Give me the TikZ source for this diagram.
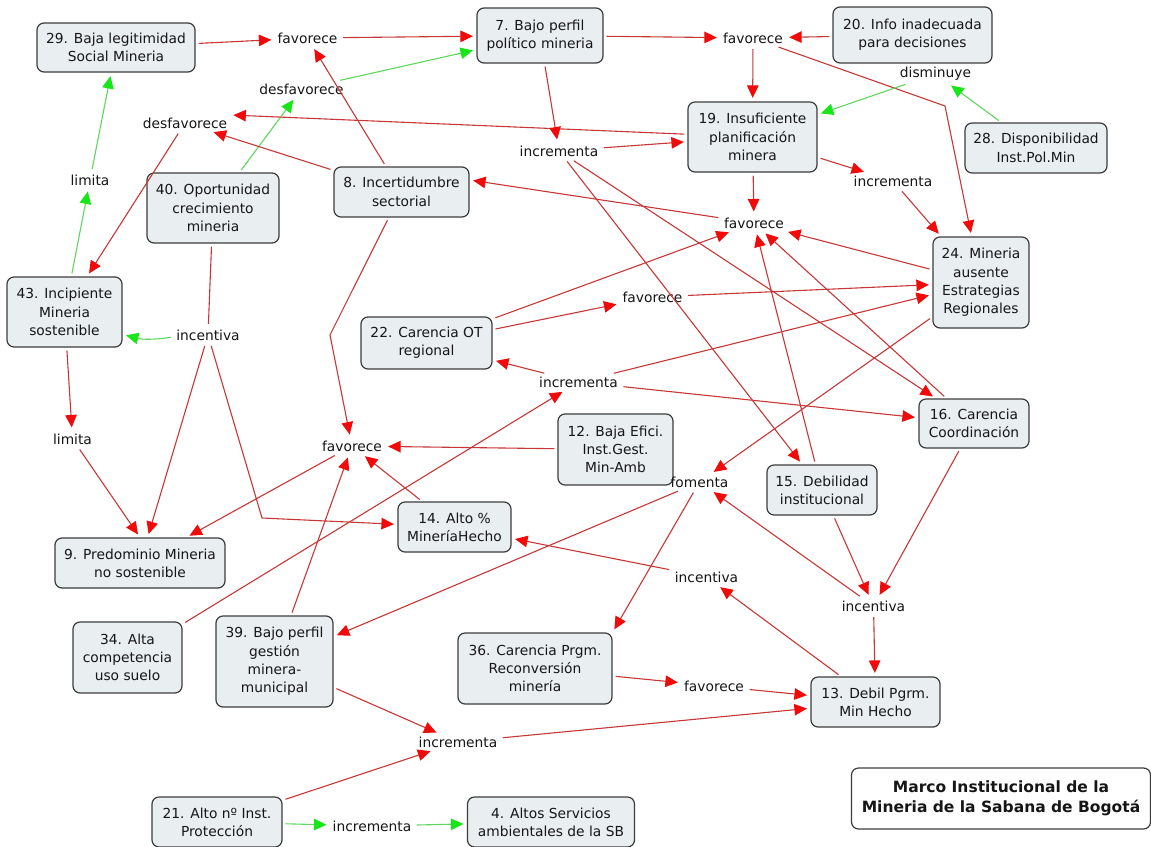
\documentclass[tikz,border=0pt]{standalone}
\usepackage{fontspec}
\setmainfont{DejaVu Sans}
\usetikzlibrary{arrows.meta}
\definecolor{boxfill}{RGB}{233,238,241}
\definecolor{boxline}{RGB}{60,60,60}
\definecolor{linkred}{RGB}{200,55,55}
\definecolor{tipred}{RGB}{240,10,10}
\definecolor{linkgreen}{RGB}{95,215,95}
\definecolor{tipgreen}{RGB}{25,230,25}
\definecolor{txt}{RGB}{22,22,22}
\begin{document}
\begin{tikzpicture}[x=1pt,y=-1pt,
  concept/.style={draw=boxline, line width=1.2pt, fill=boxfill, rounded corners=7pt,
    align=center, inner sep=2pt, text=txt, font=\fontsize{13.8}{18.3}\selectfont},
  phrase/.style={align=center, inner sep=2.5pt, text=txt, font=\fontsize{13.8}{18.3}\selectfont},
  redarrow/.style={draw=linkred, line width=1.1pt, shorten >=3.5pt, shorten <=3pt,
    -{Triangle[length=12.5pt,width=11.5pt,color=tipred]}},
  greenarrow/.style={draw=linkgreen, line width=1.1pt, shorten >=3.5pt, shorten <=3pt,
    -{Triangle[length=12.5pt,width=11.5pt,color=tipgreen]}},
  redline/.style={draw=linkred, line width=1.1pt, shorten <=3pt, shorten >=3pt},
]
\fill[white] (0,0) rectangle (1151,846);
\useasboundingbox (0,0) rectangle (1151,846);

% concepts
\node[concept, minimum width=158pt, minimum height=49pt] (n29) at (116,47.5) {29. Baja legitimidad\\Social Mineria};
\node[concept, minimum width=126pt, minimum height=55pt] (n7) at (540,35.5) {7. Bajo perfil\\político mineria};
\node[concept, minimum width=159pt, minimum height=56pt] (n20) at (912.5,35) {20. Info inadecuada\\para decisiones};
\node[concept, minimum width=142pt, minimum height=50pt] (n28) at (1036,148) {28. Disponibilidad\\Inst.Pol.Min};
\node[concept, minimum width=129pt, minimum height=70pt] (n19) at (752.5,137) {19. Insuficiente\\planificación\\minera};
\node[concept, minimum width=135pt, minimum height=50pt] (n8) at (401.5,192) {8. Incertidumbre\\sectorial};
\node[concept, minimum width=132pt, minimum height=70pt] (n40) at (213,208) {40. Oportunidad\\crecimiento\\mineria};
\node[concept, minimum width=115pt, minimum height=70pt] (n43) at (64.5,312) {43. Incipiente\\Mineria\\sostenible};
\node[concept, minimum width=96pt, minimum height=91pt] (n24) at (981,282.5) {24. Mineria\\ausente\\Estrategias\\Regionales};
\node[concept, minimum width=131pt, minimum height=52pt] (n22) at (426.5,343) {22. Carencia OT\\regional};
\node[concept, minimum width=110pt, minimum height=49pt] (n16) at (974,423.5) {16. Carencia\\Coordinación};
\node[concept, minimum width=115pt, minimum height=71pt] (n12) at (615.5,449.5) {12. Baja Efici.\\Inst.Gest.\\Min-Amb};
\node[concept, minimum width=110pt, minimum height=50pt] (n15) at (822,490) {15. Debilidad\\institucional};
\node[concept, minimum width=113pt, minimum height=50pt] (n14) at (454.5,527) {14. Alto \%\\MineríaHecho};
\node[concept, minimum width=170pt, minimum height=50pt] (n9) at (140,563) {9. Predominio Mineria\\no sostenible};
\node[concept, minimum width=109pt, minimum height=71pt] (n34) at (127.5,657.5) {34. Alta\\competencia\\uso suelo};
\node[concept, minimum width=117pt, minimum height=91pt] (n39) at (274.5,661.5) {39. Bajo perfil\\gestión\\minera-\\municipal};
\node[concept, minimum width=154pt, minimum height=71pt] (n36) at (535,668.5) {36. Carencia Prgm.\\Reconversión\\minería};
\node[concept, minimum width=129pt, minimum height=50pt] (n13) at (875.5,702) {13. Debil Pgrm.\\Min Hecho};
\node[concept, minimum width=130pt, minimum height=50pt] (n21) at (217,822) {21. Alto nº Inst.\\Protección};
\node[concept, minimum width=167pt, minimum height=50pt] (n4) at (551,822) {4. Altos Servicios\\ambientales de la SB};
\node[concept, fill=white, minimum width=299pt, minimum height=61pt,
  font=\fontsize{15.5}{20}\selectfont\bfseries] (title) at (1001,798.5)
  {Marco Institucional de la\\Mineria de la Sabana de Bogotá};

% linking phrases
\node[phrase] (fav1) at (307.5,38) {favorece};
\node[phrase] (fav2) at (753,38) {favorece};
\node[phrase] (dism) at (935.5,74) {disminuye};
\node[phrase] (desf1) at (301.5,89) {desfavorece};
\node[phrase] (desf2) at (185,123) {desfavorece};
\node[phrase] (incr1) at (559,151) {incrementa};
\node[phrase] (incr2) at (893,181) {incrementa};
\node[phrase] (fav3) at (754,223) {favorece};
\node[phrase] (lim1) at (90,180) {limita};
\node[phrase] (inc1) at (208,335) {incentiva};
\node[phrase] (fav4) at (652.5,297) {favorece};
\node[phrase] (incr3) at (578.5,382) {incrementa};
\node[phrase] (fav5) at (352,446) {favorece};
\node[phrase] (fom) at (699.5,482) {fomenta};
\node[phrase] (lim2) at (72.5,439) {limita};
\node[phrase] (inc2) at (706.5,577) {incentiva};
\node[phrase] (inc3) at (873.5,606) {incentiva};
\node[phrase] (fav6) at (714,686) {favorece};
\node[phrase] (incr4) at (458,742) {incrementa};
\node[phrase] (incr5) at (372,826) {incrementa};

% bend points of the elbowed connectors
\coordinate (k1) at (945,106);
\coordinate (k2) at (330,335);
\coordinate (k3) at (262,518);

% connectors
\draw[redarrow] (n29) -- (fav1);
\draw[redarrow] (fav1) -- (n7);
\draw[greenarrow] (desf1) -- (n7);
\draw[greenarrow] (n40) -- (desf1);
\draw[redarrow] (n8) -- (fav1);
\draw[redarrow] (n8) -- (desf2);
\draw[redarrow] (n19) -- (desf2.north east);
\draw[redarrow] (desf2) -- (n43);
\draw[greenarrow] (n43) -- (lim1);
\draw[greenarrow] (lim1) -- (n29);
\draw[redarrow] (n7) -- (fav2);
\draw[redarrow] (n20) -- (fav2);
\draw[redarrow] (fav2) -- (n19);
\draw[redarrow] (fav2) -- (k1) -- (n24);
\draw[greenarrow] (n28) -- (dism);
\draw[greenarrow] (dism) -- (n19);
\draw[redarrow] (n7) -- (incr1);
\draw[redarrow] (incr1) -- (n19);
\draw[redarrow] (n19) -- (incr2);
\draw[redarrow] (incr2) -- (n24);
\draw[redarrow] (n19) -- (fav3);
\draw[redarrow] (fav3) -- (n8.10);
\draw[redarrow] (n24) -- (fav3);
\draw[redarrow] (n22) -- (fav3);
\draw[redarrow] (n22) -- (fav4);
\draw[redarrow] (fav4) -- (n24);
\draw[redarrow] (incr3) -- (n22);
\draw[redarrow] (incr3) -- (n24);
\draw[redarrow] (incr3) -- (n16);
\draw[redarrow] (n34) -- (incr3);
\draw[redarrow] (incr1) -- (n15);
\draw[redarrow] (incr1) -- (n16);
\draw[redarrow] (n16) -- (fav3);
\draw[redarrow] (n15) -- (fav3);
\draw[redarrow] (n24) -- (fom);
\draw[redarrow] (n8) -- (k2) -- (fav5);
\draw[redarrow] (n12) -- (fav5);
\draw[redarrow] (n14) -- (fav5);
\draw[redarrow] (n39) -- (fav5);
\draw[redarrow] (fav5) -- (n9);
\draw[redarrow] (lim2) -- (n9.north);
\draw[redarrow] (n43) -- (lim2);
\draw[greenarrow] (inc1) to[bend left=12] (n43);
\draw[redline] (n40) -- (inc1);
\draw[redarrow] (inc1) -- (n9);
\draw[redarrow] (inc1) -- (k3) -- (n14);
\draw[redarrow] (fom) -- (n39);
\draw[redarrow] (fom) -- (n36.north east);
\draw[redarrow] (inc3) -- (fom);
\draw[redarrow] (inc2) -- (n14);
\draw[redarrow] (n13) -- (inc2);
\draw[redarrow] (n15) -- (inc3);
\draw[redarrow] (n16) -- (inc3);
\draw[redarrow] (inc3) -- (n13);
\draw[redarrow] (n36) -- (fav6);
\draw[redarrow] (fav6) -- (n13);
\draw[redarrow] (incr4) -- (n13);
\draw[redarrow] (n39) -- (incr4);
\draw[redarrow] (n21) -- (incr4);
\draw[greenarrow] (n21) -- (incr5);
\draw[greenarrow] (incr5) -- (n4);
\end{tikzpicture}
\end{document}
